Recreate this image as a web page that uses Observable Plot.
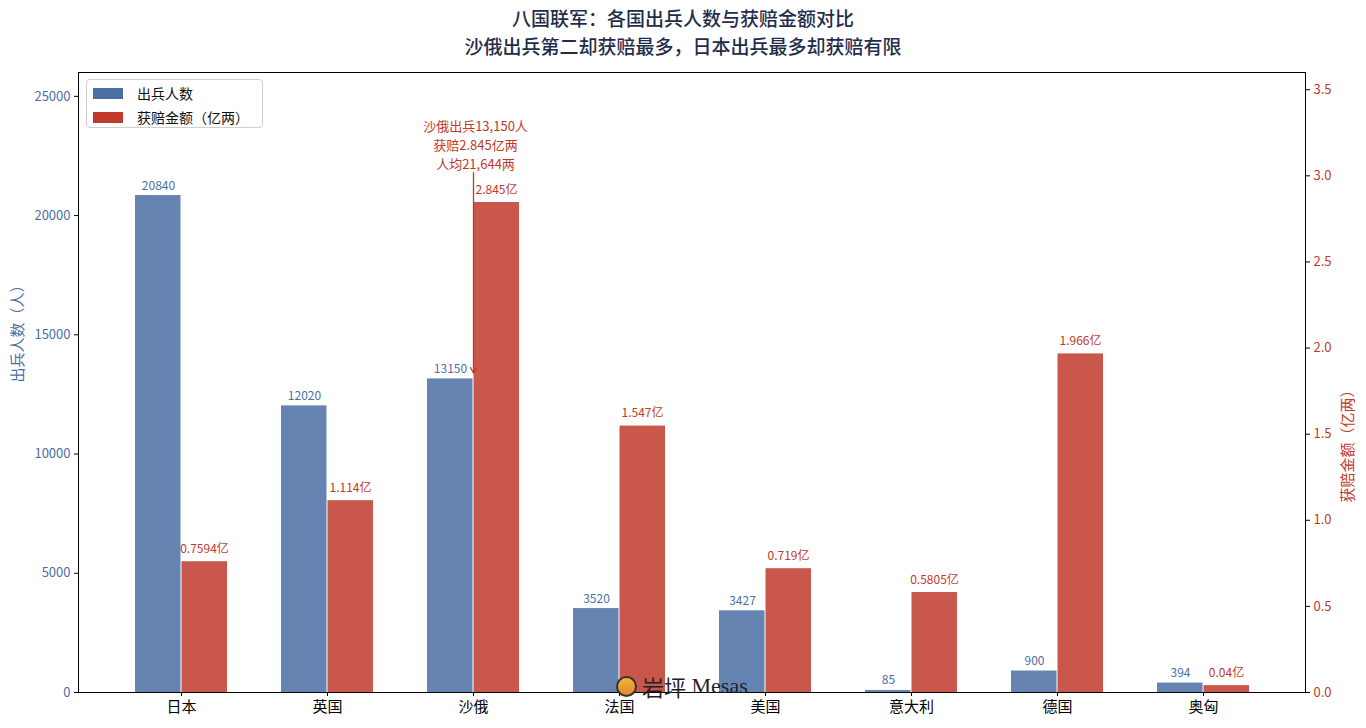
<!DOCTYPE html>
<html><head><meta charset="utf-8">
<script src="https://cdn.jsdelivr.net/npm/d3@7"></script>
<script src="https://cdn.jsdelivr.net/npm/@observablehq/plot@0.6"></script>
<style>
body{margin:0;background:#fff;font-family:"Noto Sans CJK SC","Noto Sans",sans-serif;}
#wrap{position:relative;width:1366px;height:728px;overflow:hidden;}
#title{height:60px;text-align:center;color:#1f2d4d;font-size:19px;line-height:27.5px;padding-top:4px;box-sizing:border-box;font-weight:500;}
#legend{position:absolute;left:86px;top:79px;width:177px;height:49px;border:1px solid #cfcfcf;border-radius:4px;background:rgba(255,255,255,0.85);box-sizing:border-box;font-size:14px;color:#111;}
.row{position:absolute;left:6px;height:20px;display:flex;align-items:center;}
.sw{width:30px;height:11px;margin-right:14px;}
#wm{position:absolute;left:616px;top:670px;display:flex;align-items:center;font-size:22px;color:#222;}
#wm .ic{width:21px;height:21px;border-radius:50%;border:2px solid #333;background:linear-gradient(#f4b23b,#e58a2a);margin-right:5px;box-sizing:border-box;}
#wm .en{font-family:"Liberation Serif","DejaVu Serif",serif;font-size:22px;}
</style></head>
<body>
<div id="wrap">
<div id="title">八国联军：各国出兵人数与获赔金额对比<br>沙俄出兵第二却获赔最多，日本出兵最多却获赔有限</div>
<div id="chart"></div>
<div id="legend">
  <div class="row" style="top:3px"><div class="sw" style="background:#4a6fa5"></div>出兵人数</div>
  <div class="row" style="top:27px"><div class="sw" style="background:#c0392b"></div>获赔金额（亿两）</div>
</div>
<div id="wm"><div class="ic"></div><span>岩坪</span><span class="en">&nbsp;Mesas</span></div>
</div>
<script>
const countries = ["日本","英国","沙俄","法国","美国","意大利","德国","奥匈"];
const troops = [20840, 12020, 13150, 3520, 3427, 85, 900, 394];
const indemnity = [0.7594, 1.114, 2.845, 1.547, 0.719, 0.5805, 1.966, 0.04];
const indemnityLabels = ["0.7594亿","1.114亿","2.845亿","1.547亿","0.719亿","0.5805亿","1.966亿","0.04亿"];
const leftTicks = [0, 5000, 10000, 15000, 20000, 25000];
const rightTicks = [0, 0.5, 1.0, 1.5, 2.0, 2.5, 3.0, 3.5];
const leftMax = 26000, rightMax = 3.6;
const annCountry = "沙俄";
const annText = "沙俄出兵13,150人\n获赔2.845亿两\n人均21,644两";
const annFrom = 21800, annTo = 13400, annTextY = 21950;

const blue = "#4a6fa5", red = "#c0392b";
const k = leftMax / rightMax;
const rows = countries.map((c, i) => ({c, t: troops[i], m: indemnity[i] * k, lbl: indemnityLabels[i]}));

const chart = Plot.plot({
  width: 1366, height: 668,
  marginLeft: 78, marginRight: 61, marginTop: 12, marginBottom: 36,
  style: {fontFamily: '"Noto Sans CJK SC","Noto Sans",sans-serif', background: "white"},
  x: {domain: countries, paddingInner: 0.37, paddingOuter: 0.387, label: null},
  y: {domain: [0, leftMax], label: null},
  marks: [
    Plot.barY(rows, {x: "c", y: "t", fill: blue, fillOpacity: 0.85, insetRight: 46.5}),
    Plot.barY(rows, {x: "c", y: "m", fill: red, fillOpacity: 0.85, insetLeft: 46.5}),
    Plot.text(rows, {x: "c", y: "t", text: d => String(d.t), dx: -23, dy: -6, lineAnchor: "bottom", fill: blue, fontSize: 12}),
    Plot.text(rows, {x: "c", y: "m", text: "lbl", dx: 23, dy: -9, lineAnchor: "bottom", fill: red, fontSize: 12}),
    Plot.arrow([{c: annCountry}], {x1: "c", x2: "c", y1: () => annFrom, y2: () => annTo, stroke: red, strokeWidth: 1.3, headLength: 7}),
    Plot.text([{c: annCountry, s: annText}], {x: "c", y: () => annTextY, text: "s", lineAnchor: "bottom", fill: red, fontSize: 13, lineHeight: 1.45, dx: 2}),
    Plot.frame({stroke: "black", strokeWidth: 1}),
    Plot.axisY(leftTicks, {anchor: "left", tickSize: 4, fill: blue, stroke: "black", fontSize: 13, tickPadding: 4, label: null, tickFormat: d => String(d)}),
    Plot.axisY(rightTicks.map(v => v * k), {anchor: "right", tickSize: 4, fill: red, stroke: "black", fontSize: 13, tickPadding: 4, label: null, tickFormat: d => (d / k).toFixed(1)}),
    Plot.axisX({tickSize: 4, fill: "black", stroke: "black", fontSize: 15, tickPadding: 5, label: null}),
    Plot.text(["出兵人数（人）"], {text: d => d, frameAnchor: "left", dx: -60, rotate: -90, fill: blue, fontSize: 15}),
    Plot.text(["获赔金额（亿两）"], {text: d => d, frameAnchor: "right", dx: 43, rotate: -90, fill: red, fontSize: 15})
  ]
});
document.getElementById("chart").appendChild(chart);
</script>
</body></html>
